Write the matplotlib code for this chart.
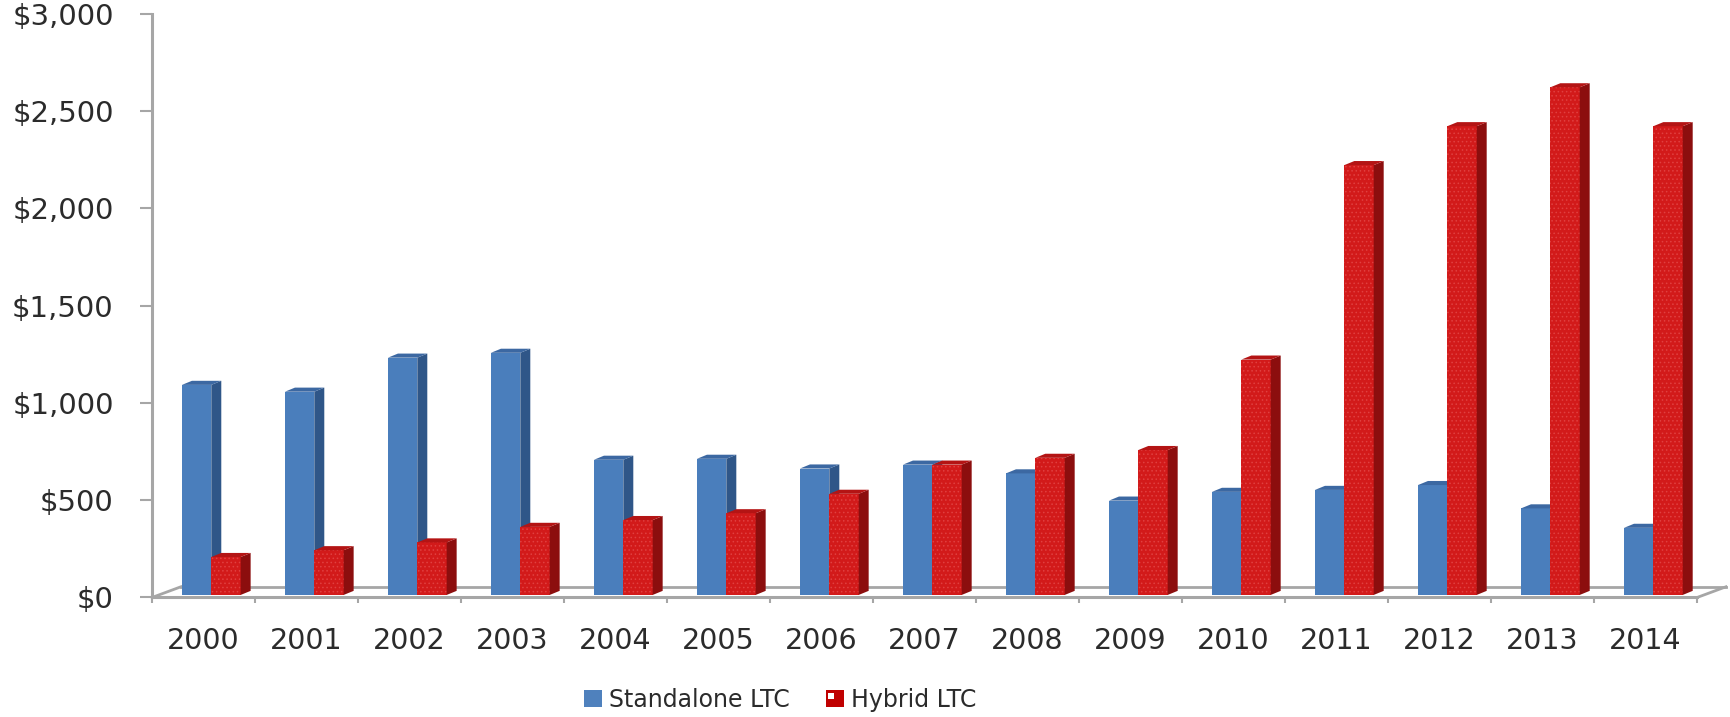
import matplotlib.pyplot as plt
from matplotlib.patches import Polygon, Patch, Rectangle
from matplotlib.legend_handler import HandlerPatch

years = ['2000', '2001', '2002', '2003', '2004', '2005', '2006', '2007',
         '2008', '2009', '2010', '2011', '2012', '2013', '2014']
standalone = [1080, 1045, 1220, 1245, 695, 700, 650, 670, 625, 485, 530, 540, 565, 445, 345]
hybrid = [195, 230, 270, 350, 385, 420, 520, 670, 705, 745, 1210, 2210, 2410, 2610, 2410]
yticks = [0, 500, 1000, 1500, 2000, 2500, 3000]
ytick_labels = ['$0', '$500', '$1,000', '$1,500', '$2,000', '$2,500', '$3,000']
series_names = ['Standalone LTC', 'Hybrid LTC']

grey = '#A6A6A6'
txt = '#2B2B2B'

fig = plt.figure(figsize=(17.3, 7.17), dpi=100)
ax = fig.add_axes([0.0879, 0.1667, 0.8931, 0.8138])
n = len(years)
ax.set_xlim(-0.5, n - 0.5)
ax.set_ylim(0, 3000)

# fake 3D: oblique offsets for bar depth and the floor
bar_w = 0.285
dx, dy = 0.097, 21
floor_dx, floor_dy = 0.28, 55
base = 13


def extrude(bars, side_col, top_col, z):
    for r in bars:
        x0, y0 = r.get_x(), r.get_y()
        x1, y1 = x0 + r.get_width(), y0 + r.get_height()
        ax.add_patch(Polygon([(x1, y0), (x1 + dx, y0 + dy), (x1 + dx, y1 + dy), (x1, y1)],
                             closed=True, facecolor=side_col, lw=0, zorder=z))
        ax.add_patch(Polygon([(x0, y1), (x1, y1), (x1 + dx, y1 + dy), (x0 + dx, y1 + dy)],
                             closed=True, facecolor=top_col, lw=0, zorder=z))


# red legend key with the little white highlight in its corner
class SpotKey(HandlerPatch):
    def create_artists(self, legend, orig_handle, xdescent, ydescent, width, height, fontsize, trans):
        body = Rectangle((-xdescent, -ydescent), width, height,
                         facecolor=orig_handle.get_facecolor(), lw=0, transform=trans)
        spot = Rectangle((-xdescent + width * 0.12, -ydescent + height * 0.5), width * 0.35, height * 0.35,
                         facecolor='white', lw=0, transform=trans)
        return [body, spot]


xs = list(range(n))
blue = ax.bar([x - 0.21 for x in xs], standalone, width=bar_w, bottom=base, align='edge',
              color='#4A7EBC', lw=0, zorder=3)
extrude(blue, '#2F5688', '#3C68A2', 3)

plt.rcParams['hatch.linewidth'] = 0.6
red = ax.bar([x - 0.21 + bar_w for x in xs], hybrid, width=bar_w, bottom=base, align='edge',
             facecolor='#D21A1A', edgecolor='#E04040', hatch='....', lw=0, zorder=4)
extrude(red, '#8C0E0E', '#B41414', 4)

# floor outline
x_l, x_r = -0.5, n - 0.5
ax.plot([x_l + floor_dx, x_r + floor_dx], [floor_dy, floor_dy], color=grey, lw=2, zorder=1, clip_on=False)
ax.plot([x_l, x_l + floor_dx], [0, floor_dy], color=grey, lw=2, zorder=1, clip_on=False)
ax.plot([x_r, x_r + floor_dx], [0, floor_dy], color=grey, lw=2, zorder=1, clip_on=False)

for s in ['top', 'right']:
    ax.spines[s].set_visible(False)
for s in ['left', 'bottom']:
    ax.spines[s].set_color(grey)
    ax.spines[s].set_linewidth(2.2)
    ax.spines[s].set_zorder(2)

ax.set_yticks(yticks, ytick_labels)
ax.tick_params(axis='y', length=8.6, width=1.5, color=grey, pad=19, labelsize=21, labelcolor=txt)

ax.set_xticks(xs, years)
ax.set_xticks([x - 0.5 for x in range(n + 1)], minor=True)
ax.tick_params(axis='x', which='major', length=0, pad=21, labelsize=20.5, labelcolor=txt)
ax.tick_params(axis='x', which='minor', length=4, width=1.5, color=grey)

blue_key = Patch(facecolor='#4F81BD')
red_key = Patch(facecolor='#C00000')
fig.legend([blue_key, red_key], series_names, loc='center', bbox_to_anchor=(0.451, 0.024), ncol=2,
           frameon=False, fontsize=17, handlelength=0.76, handleheight=0.7,
           handletextpad=0.3, columnspacing=1.5, labelcolor=txt,
           handler_map={red_key: SpotKey()})

fig.savefig('out.png', dpi=100)
